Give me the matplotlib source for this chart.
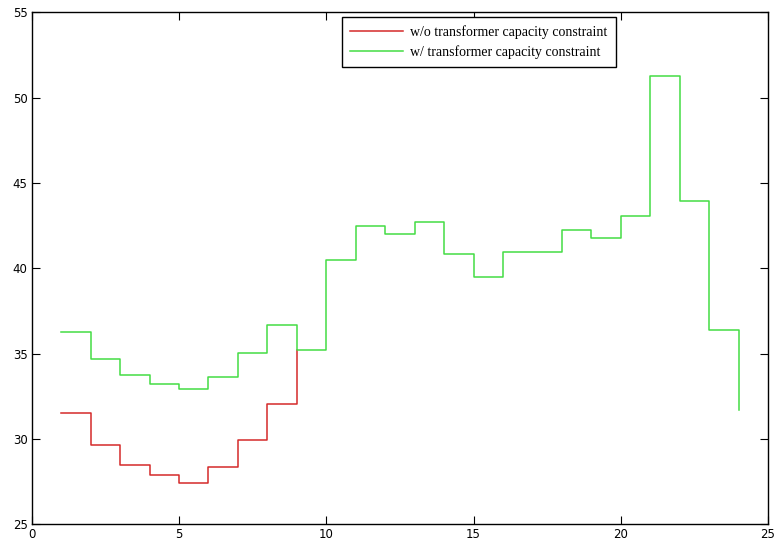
import matplotlib
matplotlib.use("Agg")
import matplotlib.pyplot as plt

hours = list(range(1, 25))
with_constraint = [36.25, 34.70, 33.73, 33.22, 32.93, 33.65, 35.02, 36.69, 35.19,
                   40.48, 42.46, 41.99, 42.73, 40.85, 39.51, 40.97, 40.93, 42.22,
                   41.75, 43.04, 51.28, 43.94, 36.40, 31.70]
# red series coincides with the green one from hour 9 on (hidden beneath it)
without_constraint = [31.52, 29.63, 28.49, 27.87, 27.44, 28.36, 29.94, 32.03, 35.19]
labels = ["w/o transformer capacity constraint", "w/ transformer capacity constraint"]
xticks = [0, 5, 10, 15, 20, 25]
yticks = [25, 30, 35, 40, 45, 50, 55]

fig = plt.figure(figsize=(7.74, 5.44), dpi=100)
ax = fig.add_axes([0.0411, 0.0362, 0.9511, 0.9412])
ax.step(hours[:len(without_constraint)], without_constraint, where="post",
        color="#d42a2a", lw=1.1, label=labels[0])
ax.step(hours, with_constraint, where="post", color="#44dd44", lw=1.1, label=labels[1])
ax.set_xlim(0, 25)
ax.set_ylim(25, 55)
ax.set_xticks(xticks)
ax.set_yticks(yticks)
ax.tick_params(direction="in", top=True, right=True, length=6, width=0.8,
               labelsize=8.5, pad=3, colors="black")
for s in ax.spines.values():
    s.set_linewidth(1.0)
leg = ax.legend(loc="upper left", bbox_to_anchor=(0.4214, 0.9908), fancybox=False,
                edgecolor="black", framealpha=1, handlelength=3.8,
                prop={"family": "Liberation Serif", "size": 10},
                borderpad=0.6, labelspacing=0.45, handletextpad=0.5,
                borderaxespad=0)
leg.get_frame().set_linewidth(1.0)
fig.savefig("out.png", dpi=100)
